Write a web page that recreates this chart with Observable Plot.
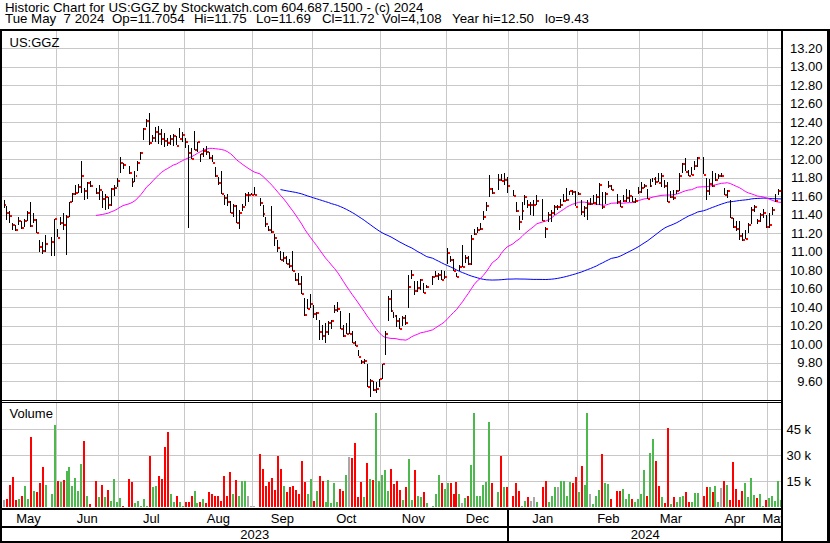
<!DOCTYPE html>
<html><head><meta charset="utf-8">
<script src="https://cdn.jsdelivr.net/npm/d3@7"></script>
<script src="https://cdn.jsdelivr.net/npm/@observablehq/plot@0.6"></script>
<style>
html,body{margin:0;padding:0;background:#fff;}
#wrap{position:relative;width:830px;height:543px;overflow:hidden;background:#fff;font-family:"Liberation Sans",Arial,sans-serif;color:#000;}
.hdr{position:absolute;font-size:13.3px;line-height:11px;white-space:pre;}
.pane{position:absolute;left:0;}
.b{position:absolute;background:#000;}
svg{display:block;}
</style></head><body>
<div id="wrap"></div>
<script>
const titleLine = "Historic Chart for US:GGZ by Stockwatch.com 604.687.1500 - (c) 2024";
const infoFields = ["Tue May  7 2024", "Op=11.7054", "Hi=11.75", "Lo=11.69", "Cl=11.72", "Vol=4,108", "Year hi=12.50", "lo=9.43"];
const ticker = "US:GGZ";

// one entry per weekday from Mon May 8 2023 to Tue May 7 2024; null = market holiday
const closes = [11.51,11.43,11.39,11.29,11.24,11.34,11.26,11.34,11.42,11.28,11.35,11.21,11.06,11.01,11.09,null,11.11,11.36,11.16,11.32,
11.29,11.38,11.54,11.63,11.64,11.71,11.83,11.66,11.75,11.72,null,11.64,11.67,11.58,11.60,11.51,11.68,11.69,11.77,11.97,
11.94,null,11.86,11.76,11.83,11.97,12.07,12.33,12.42,12.18,12.24,12.30,12.28,12.23,12.20,12.18,12.22,12.26,12.15,12.23,
12.27,12.19,12.07,12.01,12.11,12.19,12.06,12.09,12.08,12.02,11.97,11.82,11.75,11.63,11.59,11.54,11.42,11.50,11.32,11.43,
11.49,11.62,11.62,11.62,11.62,null,11.53,11.41,11.31,11.24,11.22,11.16,11.05,10.92,10.94,10.87,10.85,10.80,10.70,10.66,
10.55,10.32,10.39,10.44,10.33,10.34,10.14,10.10,10.14,10.24,10.26,10.38,10.39,10.17,10.09,10.12,10.12,10.02,9.99,9.87,
9.81,9.82,9.54,9.61,9.51,9.52,9.63,9.79,10.12,10.50,10.37,10.31,10.26,10.17,10.29,10.24,10.62,10.75,10.58,10.61,
10.70,10.56,10.62,null,10.73,10.74,10.76,10.70,10.73,10.99,10.92,10.80,10.73,10.84,10.84,10.94,10.87,11.14,11.20,11.24,
11.25,11.38,11.50,11.68,11.64,null,11.78,11.77,11.78,11.72,null,11.61,11.45,11.33,11.45,11.60,11.51,11.51,11.51,11.55,
null,11.34,11.25,11.40,11.43,11.49,11.49,11.51,11.55,11.57,11.66,11.65,11.49,11.63,11.44,11.48,11.52,11.52,11.53,11.60,
11.73,11.49,11.63,11.72,11.67,null,11.54,11.49,11.55,11.59,11.61,11.54,11.55,11.65,11.70,11.72,11.58,11.72,11.79,11.76,
11.75,11.83,11.72,11.54,11.60,11.59,11.66,11.83,11.95,11.87,11.83,11.84,11.93,12.02,null,11.84,11.66,11.74,11.72,11.78,
11.83,11.83,11.62,11.66,11.37,11.27,11.25,11.18,11.13,11.14,11.29,11.46,11.49,11.34,11.40,11.43,11.27,11.30,11.46,11.56,
11.66,11.72];
const highs = [11.56,11.49,11.44,11.31,11.29,11.38,11.33,11.36,11.44,11.54,11.42,11.36,11.13,11.11,11.18,null,11.16,11.36,11.25,11.38,
11.42,11.40,11.54,11.64,11.72,11.73,11.98,11.69,11.75,11.77,null,11.69,11.72,11.66,11.63,11.59,11.69,11.72,11.80,12.02,
11.96,null,11.93,11.80,11.87,11.98,12.08,12.34,12.44,12.50,12.26,12.35,12.36,12.33,12.28,12.23,12.26,12.27,12.25,12.34,
12.29,12.23,12.16,12.12,12.31,12.19,12.06,12.12,12.14,12.08,12.05,11.92,11.81,11.87,11.61,11.62,11.55,11.52,11.51,11.45,
11.52,11.64,11.65,11.64,11.70,null,11.58,11.51,11.38,11.28,11.50,11.19,11.13,11.01,11.00,10.95,10.92,11.01,10.77,10.77,
10.74,10.50,10.49,10.54,10.43,10.35,10.26,10.21,10.23,10.25,10.26,10.43,10.46,10.36,10.21,10.23,10.34,10.14,10.04,9.94,
9.83,9.84,9.79,9.63,9.60,9.59,9.63,9.79,10.14,10.52,10.59,10.35,10.32,10.28,10.31,10.32,10.75,10.80,10.68,10.68,
10.71,10.66,10.64,null,10.74,10.79,10.77,10.80,10.79,11.04,10.95,10.92,10.77,10.86,11.07,10.97,10.95,11.18,11.25,11.27,
11.31,11.44,11.54,11.83,11.69,null,11.84,11.84,11.85,11.81,null,11.67,11.54,11.39,11.54,11.61,11.56,11.54,11.56,11.61,
null,11.57,11.27,11.43,11.45,11.51,11.51,11.57,11.62,11.69,11.66,11.67,11.66,11.65,11.56,11.49,11.56,11.58,11.61,11.62,
11.74,11.65,11.65,11.77,11.72,null,11.63,11.56,11.61,11.68,11.67,11.60,11.58,11.70,11.75,11.73,11.68,11.79,11.80,11.81,
11.85,11.85,11.78,11.75,11.66,11.67,11.67,11.85,11.96,12.01,11.88,11.92,11.98,12.03,null,12.02,11.80,11.79,11.87,11.85,
11.84,11.85,11.69,11.67,11.56,11.37,11.33,11.33,11.20,11.24,11.31,11.48,11.51,11.36,11.42,11.46,11.40,11.42,11.48,11.62,
11.68,11.75];
const lows = [11.47,11.34,11.31,11.24,11.23,11.29,11.25,11.27,11.33,11.27,11.31,11.20,11.00,10.98,11.00,null,10.95,10.95,11.16,11.29,
11.24,10.97,11.38,11.54,11.61,11.64,11.64,11.56,11.57,11.70,null,11.63,11.56,11.47,11.45,11.46,11.49,11.60,11.70,11.85,
11.90,null,11.84,11.70,11.76,11.87,11.99,12.21,12.35,12.16,12.19,12.19,12.17,12.16,12.13,12.14,12.16,12.14,12.15,12.23,
12.19,12.12,11.26,12.00,12.10,12.08,11.97,12.03,12.05,12.00,11.97,11.81,11.72,11.62,11.51,11.49,11.42,11.38,11.31,11.25,
11.44,11.49,11.54,11.61,11.61,null,11.49,11.38,11.27,11.23,11.20,11.06,11.00,10.91,10.89,10.87,10.82,10.79,10.68,10.64,
10.54,10.31,10.38,10.39,10.28,10.26,10.05,10.05,10.01,10.10,10.17,10.34,10.35,10.17,10.08,10.11,10.11,10.01,9.98,9.87,
9.79,9.79,9.54,9.43,9.49,9.47,9.54,9.63,9.88,10.25,10.35,10.28,10.19,10.17,10.20,10.21,10.39,10.71,10.53,10.57,
10.59,10.55,10.61,null,10.64,10.73,10.70,10.70,10.71,10.87,10.89,10.79,10.73,10.79,10.84,10.88,10.86,10.86,11.18,11.20,
11.24,11.34,11.44,11.59,11.62,null,11.67,11.77,11.72,11.64,null,11.60,11.43,11.24,11.34,11.51,11.47,11.40,11.39,11.51,
null,11.33,11.15,11.32,11.32,11.40,11.45,11.47,11.54,11.55,11.61,11.61,11.49,11.61,11.40,11.38,11.34,11.51,11.52,11.51,
11.51,11.46,11.52,11.69,11.67,null,11.52,11.48,11.54,11.54,11.54,11.54,11.53,11.63,11.64,11.69,11.57,11.70,11.75,11.72,
11.75,11.70,11.69,11.54,11.58,11.56,11.62,11.66,11.85,11.87,11.82,11.83,11.88,11.92,null,11.84,11.56,11.61,11.70,11.77,
11.79,11.81,11.61,11.58,11.37,11.26,11.22,11.13,11.12,11.14,11.20,11.30,11.43,11.30,11.32,11.37,11.26,11.26,11.40,11.54,
11.61,11.69];
// daily volume in thousands of shares
const volumesK = [4.2,4.6,12.9,17.5,4.2,4.6,6.5,12.3,4.6,40.6,9.4,8.8,14,23.3,12.9,null,7.5,47.3,15,14.6,
15.8,20.6,23.3,12.3,16.9,9.4,24.8,38,6.5,1.9,null,15.2,6,12.9,6,10,3.7,16.2,2.7,5.4,
0.8,null,16.2,14.6,2.1,3.7,0.8,4.6,0.5,29.6,11.3,12.3,18.1,16.3,34.4,43.5,7.3,2.7,6.2,3.1,
0.8,3.1,3.1,6.5,9.4,2.3,3.1,4.6,2.3,8.5,7.5,6.2,6.5,3.7,18.1,6.2,20,7.3,15.8,6.5,
15,15,6.2,0.5,0.3,null,30.8,21.9,11.9,14.6,16.9,10,29.2,21.9,12.3,8.8,11.3,12.3,10,7.5,
26.7,14.6,7.3,16.2,3.7,9.4,18.1,15,3.1,15.8,2.1,14,3.1,10.4,9.4,18.7,29,28.1,36.9,5.6,
14.6,5.6,25.4,16.2,15.8,54.4,15,18.7,21.5,9.4,21.9,13.3,15,10,4.2,11.7,27.7,4.2,21.5,6.5,
5.6,8.8,2.3,null,0.5,7.5,18.7,14,10.4,14,14,7.7,14.6,7.3,2.1,5,6.5,24.4,54,6.2,
6.5,12.9,14.6,49.2,14,null,8.8,29.6,11.3,11.7,null,6.2,14,9.4,0.8,3.7,5.6,3.7,6,3.1,
null,11.7,15.2,3.1,6.2,11.7,11.7,15,15,6.5,14.6,14,17.5,8.8,23.7,12.9,54.4,7.5,2,6.2,
10,30.8,14,13.3,4.6,null,9.4,9.4,10.4,4.6,7.3,4.6,2.7,4.6,7.5,21.5,6.5,31.2,39.2,26.7,
12.3,6,2.1,45.8,1.5,5.6,3.1,5.6,6.2,8.5,2.7,3.1,7.9,7.9,null,6.2,11.7,11.7,8.5,12.3,
3.1,11,15.2,12.9,4.2,26.2,10.4,4.2,9.4,14,5.6,16.9,6.9,5,7.5,0.4,4.2,5.4,6.5,3.7,
15,4.108];

const priceTicks = [9.6,9.8,10.0,10.2,10.4,10.6,10.8,11.0,11.2,11.4,11.6,11.8,12.0,12.2,12.4,12.6,12.8,13.0,13.2];
const volumeTicks = [15000,30000,45000];
const volumeTickLabels = ["15 k","30 k","45 k"];
const monthNames = ["May","Jun","Jul","Aug","Sep","Oct","Nov","Dec","Jan","Feb","Mar","Apr","May"];
const monthStartSlots = [17.5,38.5,60.5,83.5,103.5,126.5,148.5,169.5,192.5,213.5,234.5,256.5];
const yearNames = ["2023","2024"];

// ---- build tables ----
const n = closes.length;
const days = d3.range(n).filter(i => closes[i] != null).map(i => ({
  slot: i, high: highs[i], low: lows[i], close: closes[i], volume: volumesK[i] * 1000
}));
days.forEach((d, j) => {
  const p = j ? days[j - 1].close : d.close;
  d.dir = d.close > p + 1e-9 ? "up" : d.close < p - 1e-9 ? "down" : "flat";
});
const edges = [-1, ...monthStartSlots, n - 0.7];
const months = monthNames.map((name, i) => ({name, mid: (edges[i] + edges[i + 1]) / 2}));
const janEdge = monthStartSlots[monthNames.indexOf("Jan") - 1];
const years = [{name: yearNames[0], mid: (edges[0] + janEdge) / 2}, {name: yearNames[1], mid: (janEdge + edges[edges.length - 1]) / 2}];

const FONT = "Liberation Sans, Arial, sans-serif";
const grid = {stroke: "#c8c8c8", strokeWidth: 1, shapeRendering: "crispEdges"};
const xScale = {domain: [0, n - 1], range: [3.5, 780.5], axis: null};
const baseStyle = {fontFamily: FONT, fontSize: "13px", background: "transparent", overflow: "visible"};

const pricePlot = Plot.plot({
  width: 830, height: 369, marginLeft: 2, marginRight: 49, marginTop: 0, marginBottom: 0,
  x: xScale,
  y: {domain: [9.398, 13.387], axis: null},
  style: baseStyle,
  marks: [
    Plot.ruleY(priceTicks, grid),
    Plot.ruleX(monthStartSlots, grid),
    Plot.lineY(days, Plot.windowY({k: 90, anchor: "end", strict: true}, {x: "slot", y: "close", stroke: "#0000ff", strokeWidth: 1})),
    Plot.lineY(days, Plot.windowY({k: 30, anchor: "end", strict: true}, {x: "slot", y: "close", stroke: "#ff00ff", strokeWidth: 1})),
    Plot.ruleX(days, {x: "slot", y1: "low", y2: "high", stroke: "#000", strokeWidth: 1, shapeRendering: "crispEdges"}),
    Plot.ruleY(days, {y: "close", x1: d => d.slot + 0.34, x2: d => d.slot + 1, stroke: "#ff0000", strokeWidth: 2, shapeRendering: "crispEdges"}),
    Plot.text(priceTicks, {y: d => d, text: d => d.toFixed(2), frameAnchor: "right", textAnchor: "end", dx: 41, fontSize: 13, fill: "#000"}),
    Plot.text([ticker], {frameAnchor: "top-left", dx: 7, dy: 15.5, lineAnchor: "bottom", textAnchor: "start", fontSize: 13, fill: "#000"})
  ]
});

const volPlot = Plot.plot({
  width: 830, height: 104, marginLeft: 2, marginRight: 49, marginTop: 0, marginBottom: 0,
  x: xScale,
  y: {domain: [0, 60000], axis: null},
  style: baseStyle,
  marks: [
    Plot.ruleY(volumeTicks, grid),
    Plot.ruleX(monthStartSlots, grid),
    Plot.rectY(days.filter(d => d.dir === "up"), {x1: d => d.slot - 0.17, x2: d => d.slot + 0.5, y: "volume", fill: "#4db84d", shapeRendering: "crispEdges"}),
    Plot.rectY(days.filter(d => d.dir === "down"), {x1: d => d.slot - 0.17, x2: d => d.slot + 0.5, y: "volume", fill: "#ff0000", shapeRendering: "crispEdges"}),
    Plot.rectY(days.filter(d => d.dir === "flat"), {x1: d => d.slot - 0.17, x2: d => d.slot + 0.5, y: "volume", fill: "#a8a8a8", shapeRendering: "crispEdges"}),
    Plot.text(volumeTicks, {y: d => d, text: (d, i) => volumeTickLabels[i], frameAnchor: "right", textAnchor: "start", dx: 5, fontSize: 13, fill: "#000"}),
    Plot.text(["Volume"], {frameAnchor: "top-left", dx: 7, dy: 14.5, lineAnchor: "bottom", textAnchor: "start", fontSize: 13, fill: "#000"})
  ]
});

const axisPlot = Plot.plot({
  width: 781, height: 32, marginLeft: 2, marginRight: 0, marginTop: 0, marginBottom: 0,
  x: xScale,
  style: baseStyle,
  marks: [
    Plot.text(months, {x: "mid", text: "name", frameAnchor: "top", dy: 13.6, lineAnchor: "bottom", fontSize: 13, fill: "#000"}),
    Plot.text(years, {x: "mid", text: "name", frameAnchor: "top", dy: 29.6, lineAnchor: "bottom", fontSize: 13, fill: "#000"})
  ]
});

// ---- assemble ----
const wrap = document.getElementById("wrap");
function div(cls, css, html) { const e = document.createElement("div"); e.className = cls; e.style.cssText = css; if (html != null) e.textContent = html; wrap.appendChild(e); return e; }
div("hdr", "top:2px;left:5px;", titleLine);
const fieldLeft = [5, 112, 194, 256, 322, 382, 452, 545];
infoFields.forEach((t, i) => div("hdr", `top:13px;left:${fieldLeft[i]}px;`, t));
div("pane", "top:31px;width:830px;height:369px;").appendChild(pricePlot);
div("pane", "top:403px;width:830px;height:104px;").appendChild(volPlot);
div("pane", "top:509px;width:781px;height:32px;overflow:hidden;").appendChild(axisPlot);
// frame lines
div("b", "left:0;top:29px;width:830px;height:2px;");
div("b", "left:0;top:29px;width:2px;height:514px;");
div("b", "left:781px;top:29px;width:2px;height:513px;");
div("b", "left:827px;top:29px;width:3px;height:514px;");
div("b", "left:0;top:541px;width:830px;height:2px;");
div("b", "left:0;top:400px;width:783px;height:1px;");
div("b", "left:0;top:402px;width:783px;height:1px;");
div("b", "left:0;top:508px;width:783px;height:2px;");
div("b", "left:0;top:526px;width:783px;height:2px;");
div("b", "left:507px;top:508px;width:2px;height:34px;");
</script>
</body></html>
